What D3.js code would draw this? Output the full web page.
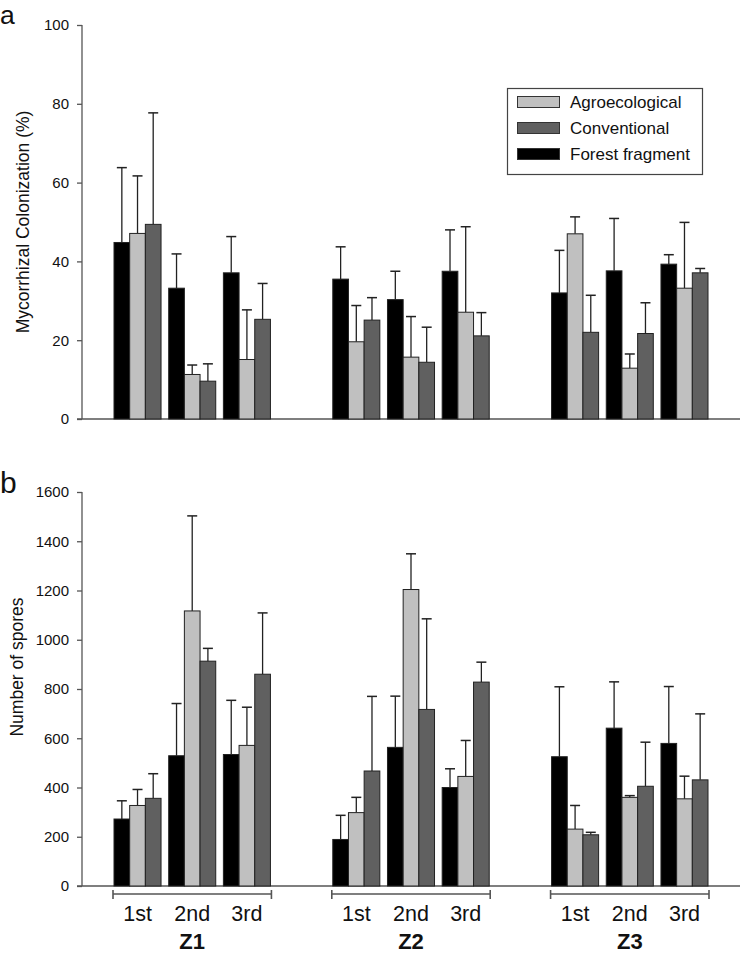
<!DOCTYPE html>
<html>
<head>
<meta charset="utf-8">
<script src="https://cdn.jsdelivr.net/npm/d3@7"></script>
<style>
  html, body { margin: 0; padding: 0; background: #fff; }
  svg { display: block; font-family: "Liberation Sans", Arial, sans-serif; }
</style>
</head>
<body>
<svg id="chart" width="740" height="953"></svg>
<script>
// ---- data ----
const zones = ["Z1", "Z2", "Z3"];
const periods = ["1st", "2nd", "3rd"];
const seriesNames = ["Forest fragment", "Agroecological", "Conventional"];
const legendOrder = ["Agroecological", "Conventional", "Forest fragment"];
const seriesColors = ["#000000", "#c0c0c0", "#606060"];

// Mycorrhizal colonization (%), order: Z1 1st,2nd,3rd, Z2 1st,2nd,3rd, Z3 1st,2nd,3rd
const forestCol = [44.8, 33.2, 37.1, 35.5, 30.3, 37.5, 32.0, 37.6, 39.3];
const forestColErr = [19.0, 8.7, 9.2, 8.2, 7.2, 10.5, 10.8, 13.3, 2.4];
const agroCol = [47.1, 11.3, 15.1, 19.6, 15.7, 27.1, 47.0, 12.9, 33.2];
const agroColErr = [14.6, 2.4, 12.6, 9.2, 10.3, 21.7, 4.3, 3.6, 16.7];
const convCol = [49.4, 9.6, 25.3, 25.1, 14.4, 21.1, 22.0, 21.7, 37.1];
const convColErr = [28.3, 4.4, 9.1, 5.7, 8.9, 5.9, 9.4, 7.8, 1.1];

// Number of spores
const forestSp = [272, 529, 534, 189, 563, 400, 525, 641, 579];
const forestSpErr = [74, 212, 220, 98, 208, 76, 284, 188, 231];
const agroSp = [327, 1117, 571, 298, 1204, 445, 231, 360, 354];
const agroSpErr = [65, 386, 155, 62, 145, 146, 96, 7, 92];
const convSp = [356, 913, 860, 467, 717, 828, 208, 405, 431];
const convSpErr = [100, 52, 249, 303, 368, 81, 10, 179, 268];

const colTicks = [0, 20, 40, 60, 80, 100];
const spTicks = [0, 200, 400, 600, 800, 1000, 1200, 1400, 1600];

// ---- layout ----
const svg = d3.select("#chart");
const axisColor = "#555";

// slots: 3 periods per zone with an empty slot between zones
const slots = [];
zones.forEach((z, zi) => {
  periods.forEach(p => slots.push(z + "-" + p));
  if (zi < zones.length - 1) slots.push("gap" + zi);
});
const cats = [];
zones.forEach(z => periods.forEach(p => cats.push(z + "-" + p)));

const x = d3.scaleBand().domain(slots).range([114, 708]).paddingInner(0.14).paddingOuter(0);
const xs = d3.scaleBand().domain(seriesNames).range([0, x.bandwidth()]);

function panel(cfg) {
  const y = d3.scaleLinear().domain(cfg.domain).range([cfg.y0, cfg.y1]);
  const g = svg.append("g");

  // y axis
  const yAxis = d3.axisLeft(y).tickValues(cfg.ticks).tickFormat(d3.format("d")).tickSize(5).tickPadding(8);
  const ga = g.append("g").attr("transform", "translate(82,0)").call(yAxis);
  ga.select(".domain").attr("stroke", axisColor).attr("stroke-width", 1.3).attr("d", `M0,${cfg.y1}V${cfg.y0}`);
  ga.selectAll(".tick line").attr("stroke", axisColor).attr("stroke-width", 1.3);
  ga.selectAll(".tick text").attr("fill", "#111").style("font-size", "15px")
    .style("font-family", '"Liberation Sans", Arial, sans-serif');

  // x axis baseline
  g.append("line").attr("x1", 77).attr("x2", 740).attr("y1", y(0)).attr("y2", y(0))
    .attr("stroke", axisColor).attr("stroke-width", 1.6);

  // bars and error bars
  cfg.series.forEach((s, si) => {
    const name = seriesNames[si];
    const data = cats.map((c, i) => ({ c, v: s.vals[i], e: s.errs[i] }));
    const sg = g.append("g");
    sg.selectAll("line.err").data(data).join("line").attr("class", "err")
      .attr("x1", d => x(d.c) + xs(name) + xs.bandwidth() / 2)
      .attr("x2", d => x(d.c) + xs(name) + xs.bandwidth() / 2)
      .attr("y1", d => y(d.v)).attr("y2", d => y(d.v + d.e))
      .attr("stroke", "#222").attr("stroke-width", 1.3);
    sg.selectAll("line.cap").data(data).join("line").attr("class", "cap")
      .attr("x1", d => x(d.c) + xs(name) + xs.bandwidth() / 2 - 5)
      .attr("x2", d => x(d.c) + xs(name) + xs.bandwidth() / 2 + 5)
      .attr("y1", d => y(d.v + d.e)).attr("y2", d => y(d.v + d.e))
      .attr("stroke", "#222").attr("stroke-width", 1.5);
    sg.selectAll("rect").data(data).join("rect")
      .attr("x", d => x(d.c) + xs(name))
      .attr("width", xs.bandwidth())
      .attr("y", d => y(d.v))
      .attr("height", d => y(0) - y(d.v))
      .attr("fill", seriesColors[si])
      .attr("stroke", "#222").attr("stroke-width", 1);
  });

  // y label
  g.append("text")
    .attr("transform", `translate(${cfg.labelX},${cfg.labelY}) rotate(-90)`)
    .attr("text-anchor", "middle")
    .style("font-size", "17.5px").attr("fill", "#111")
    .text(cfg.label);

  // panel letter
  g.append("text").attr("x", 0).attr("y", cfg.letterY)
    .style("font-size", cfg.letterSize + "px").attr("fill", "#111").text(cfg.letter);
  return y;
}

panel({
  domain: [0, 100], y0: 419, y1: 25, ticks: colTicks,
  series: [
    { vals: forestCol, errs: forestColErr },
    { vals: agroCol, errs: agroColErr },
    { vals: convCol, errs: convColErr }
  ],
  label: "Mycorrhizal Colonization (%)", labelX: 29, labelY: 222,
  letter: "a", letterY: 24, letterSize: 26.5
});

panel({
  domain: [0, 1600], y0: 886, y1: 492, ticks: spTicks,
  series: [
    { vals: forestSp, errs: forestSpErr },
    { vals: agroSp, errs: agroSpErr },
    { vals: convSp, errs: convSpErr }
  ],
  label: "Number of spores", labelX: 23, labelY: 667,
  letter: "b", letterY: 493, letterSize: 30
});

// zone brackets and labels
zones.forEach(z => {
  const x0 = x(z + "-" + periods[0]) - 1;
  const x1 = x(z + "-" + periods[2]) + x.bandwidth() + 1;
  const gb = svg.append("g");
  gb.append("line").attr("x1", x0).attr("x2", x1).attr("y1", 894).attr("y2", 894)
    .attr("stroke", axisColor).attr("stroke-width", 1.6);
  [x0, x1].forEach(xx => gb.append("line").attr("x1", xx).attr("x2", xx)
    .attr("y1", 890).attr("y2", 899).attr("stroke", axisColor).attr("stroke-width", 1.6));
  periods.forEach(p => {
    gb.append("text").attr("x", x(z + "-" + p) + x.bandwidth() / 2).attr("y", 921)
      .attr("text-anchor", "middle").style("font-size", "21.5px").attr("fill", "#111").text(p);
  });
  gb.append("text").attr("x", (x0 + x1) / 2).attr("y", 949)
    .attr("text-anchor", "middle").style("font-size", "22px").style("font-weight", "bold")
    .attr("fill", "#111").text(z);
});

// legend
const lg = svg.append("g");
lg.append("rect").attr("x", 507.5).attr("y", 88.5).attr("width", 195).attr("height", 86)
  .attr("fill", "#fff").attr("stroke", "#444").attr("stroke-width", 1.2);
legendOrder.forEach((name, i) => {
  const si = seriesNames.indexOf(name);
  const cy = 102 + i * 26;
  lg.append("rect").attr("x", 517.5).attr("y", cy - 5.5).attr("width", 42).attr("height", 11)
    .attr("fill", seriesColors[si]).attr("stroke", "#333").attr("stroke-width", 1);
  lg.append("text").attr("x", 570).attr("y", cy + 6).style("font-size", "17px")
    .attr("fill", "#111").text(name);
});
</script>
</body>
</html>
